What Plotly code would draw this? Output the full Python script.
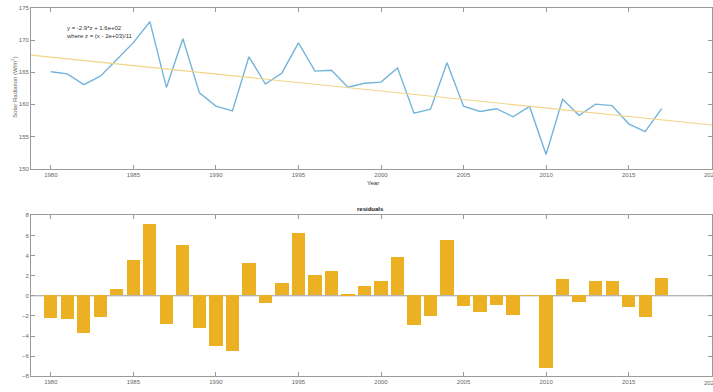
import numpy as np
import plotly.graph_objects as go

# Annual mean solar radiation, 1980-2017
years = list(range(1980, 2018))
radiation = [
    165.07, 164.74, 163.08, 164.38, 166.98, 169.61, 172.87, 162.64, 170.22, 161.79,
    159.72, 158.98, 167.41, 163.17, 164.89, 169.58, 165.18, 165.31, 162.68, 163.28,
    163.47, 165.68, 158.62, 159.26, 166.49, 159.71, 158.89, 159.32, 158.07, 159.68,
    152.20, 160.80, 158.29, 160.04, 159.81, 156.97, 155.76, 159.35,
]
x_ticks = [1980, 1985, 1990, 1995, 2000, 2005, 2010, 2015, 2020]
x_tick_labels = ["1980", "1985", "1990", "1995", "2000", "2005", "2010", "2015", "2020"]
y_ticks_top = [150, 155, 160, 165, 170, 175]
y_ticks_bottom = [-8, -6, -4, -2, 0, 2, 4, 6, 8]

# Linear fit on centred and scaled years, z = (x - mean) / std
x = np.array(years, dtype=float)
y = np.array(radiation)
mu, sd = x.mean(), x.std(ddof=1)
coef = np.polyfit((x - mu) / sd, y, 1)
x_range = [1978.8, 2020.05]
x_fit = np.linspace(x_range[0], x_range[1], 100)
y_fit = np.polyval(coef, (x_fit - mu) / sd)
residuals = y - np.polyval(coef, (x - mu) / sd)

BLUE = "#74b4da"
YELLOW = "#f2d488"
BAR = "#ecb122"
AX = "#9a9a9a"
TXT = "#666666"
FONT = "Liberation Sans, Arial"

fig = go.Figure()
fig.add_trace(go.Scatter(x=years, y=radiation, mode="lines",
                         line=dict(color=BLUE, width=1.4), xaxis="x", yaxis="y"))
fig.add_trace(go.Scatter(x=x_fit, y=y_fit, mode="lines",
                         line=dict(color=YELLOW, width=1.2), xaxis="x", yaxis="y"))
fig.add_trace(go.Bar(x=years, y=residuals, width=0.8, marker=dict(color=BAR, line=dict(width=0)),
                     xaxis="x2", yaxis="y2"))

axis_common = dict(showline=True, linecolor=AX, linewidth=1, mirror="ticks",
                   ticks="inside", ticklen=4, tickcolor=AX, showgrid=False, zeroline=False,
                   tickfont=dict(family=FONT, size=6, color=TXT))

# The last year sits on the right border of the page; its label is drawn as an
# annotation so that it is clipped by the page edge rather than dropped.
axis_ticks = x_ticks[:-1]
axis_labels = x_tick_labels[:-1]

annotations = [
    dict(text="y = -2.9*z + 1.6e+02<br>where z = (x - 2e+03)/11", xref="paper", yref="paper",
         x=64 / 713, y=1 - 20 / 392, xanchor="left", yanchor="top", showarrow=False,
         align="left", font=dict(family=FONT, size=6, color="#333333")),
    dict(text="Year", xref="paper", yref="paper", x=365 / 713, y=1 - 183 / 392,
         xanchor="left", yanchor="middle", showarrow=False,
         font=dict(family=FONT, size=6, color="#333333")),
    dict(text="<b>residuals</b>", xref="paper", yref="paper", x=371 / 713, y=1 - 209 / 392,
         xanchor="center", yanchor="middle", showarrow=False,
         font=dict(family=FONT, size=6, color="#222222")),
    dict(text="Solar Radiation (W/m<sup>2</sup>)", xref="paper", yref="paper",
         x=14 / 713, y=1 - 86 / 392, xanchor="center", yanchor="middle", textangle=-90,
         showarrow=False, font=dict(family=FONT, size=6, color=TXT)),
]
for xa, ya in (("x", 1 - 175 / 392), ("x2", 1 - 386 / 392)):
    annotations.append(dict(text=x_tick_labels[-1], xref=xa, yref="paper", x=x_ticks[-1], y=ya,
                            xanchor="center", yanchor="middle", showarrow=False,
                            font=dict(family=FONT, size=6, color=TXT)))

fig.update_layout(
    width=713, height=392, margin=dict(l=0, r=0, t=0, b=0),
    paper_bgcolor="white", plot_bgcolor="white", showlegend=False, bargap=0,
    xaxis=dict(domain=[0.0435, 0.9986], range=x_range, tickvals=axis_ticks, ticktext=axis_labels,
               anchor="y", **axis_common),
    yaxis=dict(domain=[0.571, 0.987], range=[150, 175], tickvals=y_ticks_top,
               anchor="x", **axis_common),
    xaxis2=dict(domain=[0.0435, 0.9986], range=x_range, tickvals=axis_ticks, ticktext=axis_labels,
                anchor="y2", **axis_common),
    yaxis2=dict(domain=[0.033, 0.450], range=[-8, 8], tickvals=y_ticks_bottom,
                anchor="x2", **axis_common),
    shapes=[dict(type="line", xref="x2", yref="y2", x0=x_range[0], x1=x_range[1], y0=0, y1=0,
                 line=dict(color=AX, width=1), layer="below")],
    annotations=annotations,
)

fig.write_html("out.html")
